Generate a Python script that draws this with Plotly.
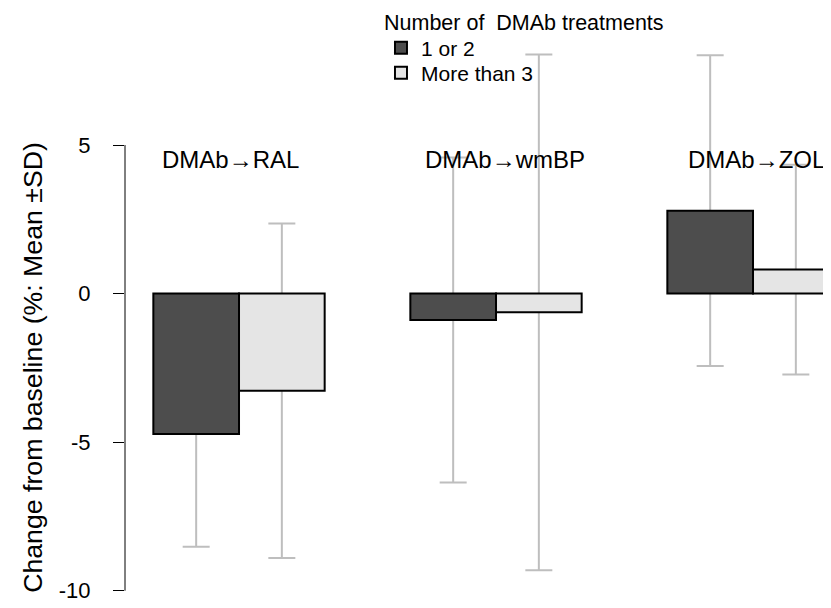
import plotly.graph_objects as go

# ---- data ----
groups = ["DMAb→RAL", "DMAb→wmBP", "DMAb→ZOL"]
series_names = ["1 or 2", "More than 3"]
mean_12 = [-4.73, -0.89, 2.79]
sd_12 = [3.79, 5.47, 5.23]
mean_3 = [-3.27, -0.63, 0.81]
sd_3 = [5.63, 8.68, 3.53]
y_ticks = [-10, -5, 0, 5]
y_tick_labels = ["-10", "-5", "0", "5"]
legend_title = "Number of  DMAb treatments"
y_title = "Change from baseline (%: Mean ±SD)"

# ---- styles ----
FONT = "Liberation Sans, Arial, Helvetica, sans-serif"
dark = "#4D4D4D"
light = "#E5E5E5"
err_col = "#BEBEBE"
label_xshift = [-9, 9, 3]

fig = go.Figure()

# error bars first (invisible bars) so that they sit behind the real bars
for name, m, s, og in [(series_names[0], mean_12, sd_12, "a"),
                       (series_names[1], mean_3, sd_3, "b")]:
    fig.add_trace(go.Bar(
        x=groups, y=m, offsetgroup=og, showlegend=False, hoverinfo="skip",
        marker=dict(color="rgba(0,0,0,0)", line=dict(width=0)),
        error_y=dict(type="data", array=s, symmetric=True, color=err_col,
                     thickness=2, width=13.5),
    ))

for name, m, col, og, lg in [(series_names[0], mean_12, dark, "a", "legend"),
                             (series_names[1], mean_3, light, "b", "legend2")]:
    fig.add_trace(go.Bar(
        x=groups, y=m, name=name, offsetgroup=og, legend=lg,
        marker=dict(color=col, line=dict(color="black", width=2)),
    ))

# y axis line from -10 to 5 (R style, spans only tick range)
fig.add_shape(type="line", xref="paper", yref="y", x0=0, x1=0,
              y0=min(y_ticks), y1=max(y_ticks),
              line=dict(color="black", width=1))

# group labels
for g, dx in zip(groups, label_xshift):
    fig.add_annotation(x=g, y=4.5, xref="x", yref="y", text=g, showarrow=False,
                       xshift=dx, font=dict(size=24, color="black", family=FONT))

# y axis title
fig.add_annotation(x=0, xref="paper", xshift=-92, y=(min(y_ticks) + max(y_ticks)) / 2,
                   yref="y", text=y_title, textangle=-90, showarrow=False,
                   xanchor="center", yanchor="middle",
                   font=dict(size=26.7, color="black", family=FONT))

# legend title
fig.add_annotation(x=0.3599, xref="paper", xanchor="left", y=0.9753, yref="paper",
                   yanchor="middle", text=legend_title, showarrow=False,
                   font=dict(size=21.5, color="black", family=FONT))

leg_common = dict(x=0.3585, xanchor="left", yanchor="middle",
                  bgcolor="rgba(0,0,0,0)", borderwidth=0,
                  font=dict(size=21, family=FONT, color="black"),
                  itemclick=False, itemdoubleclick=False)

fig.update_layout(
    width=831, height=608,
    margin=dict(l=117, r=0, t=0, b=0),
    paper_bgcolor="white", plot_bgcolor="white",
    barmode="group", bargap=1/3, bargroupgap=0,
    font=dict(family=FONT, color="black"),
    xaxis=dict(type="category", categoryorder="array", categoryarray=groups,
               range=[-0.4436, 2.3346], visible=False),
    yaxis=dict(range=[-10.852, 9.613], tickvals=y_ticks, ticktext=y_tick_labels,
               ticks="outside", ticklen=11, tickwidth=1, tickcolor="black",
               showline=False, showgrid=False, zeroline=False,
               ticklabelstandoff=18,
               tickfont=dict(size=22, color="black", family=FONT)),
    legend=dict(y=1 - 40 / 608, **leg_common),
    legend2=dict(y=1 - 65 / 608, **leg_common),
    showlegend=True,
)

fig.write_html("out.html")
